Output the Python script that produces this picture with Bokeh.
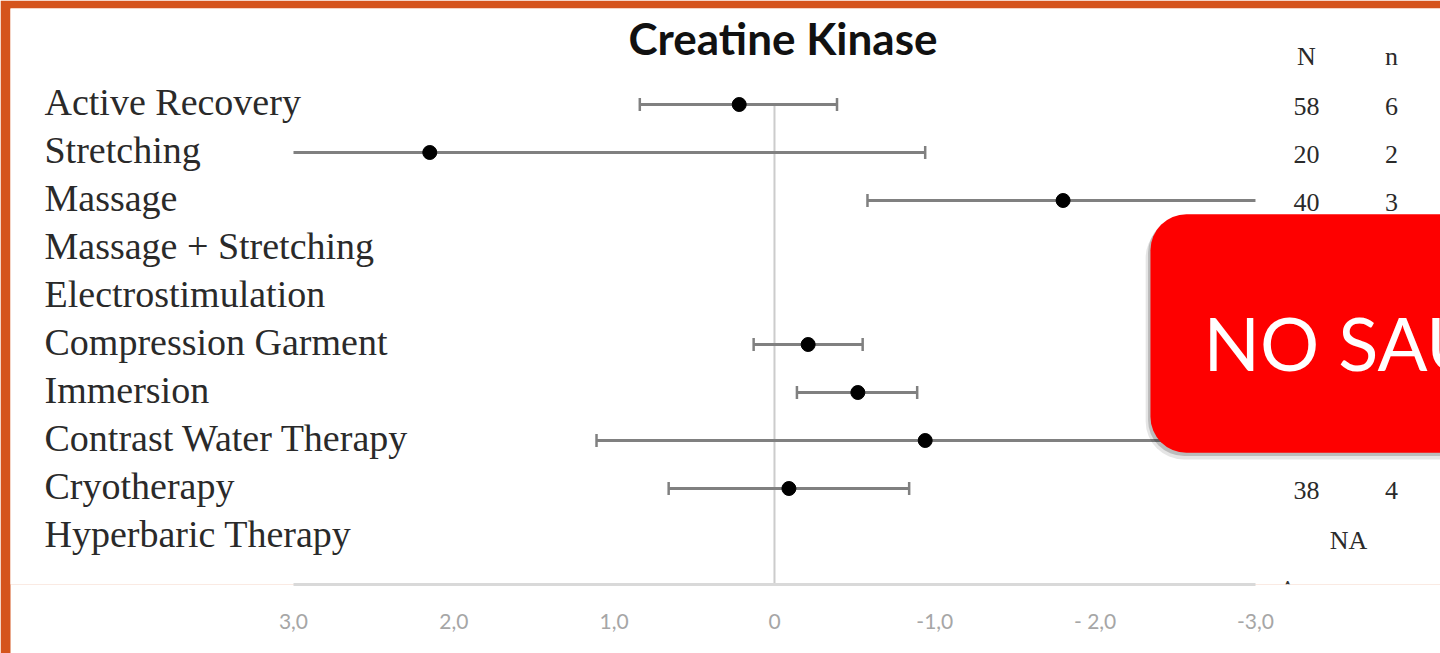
import math
from bokeh.plotting import figure
from bokeh.models import Range1d, LinearAxis, FixedTicker, ColumnDataSource, BoxAnnotation, Label
from bokeh.core.properties import value
from bokeh.embed import file_html
from bokeh.resources import INLINE

nan = float("nan")

# ---------------- data ----------------
categories = ["Active Recovery", "Stretching", "Massage", "Massage + Stretching",
              "Electrostimulation", "Compression Garment", "Immersion",
              "Contrast Water Therapy", "Cryotherapy", "Hyperbaric Therapy"]
effect = [0.22, 2.15, -1.80, nan, nan, -0.21, -0.52, -0.94, -0.09, nan]
ci_left = [0.84, 3.0, -0.58, nan, nan, 0.13, -0.14, 1.11, 0.66, nan]
ci_right = [-0.39, -0.94, -3.0, nan, nan, -0.55, -0.89, -3.0, -0.84, nan]
N_total = ["58", "20", "40", "", "", "", "", "", "38", ""]
n_studies = ["6", "2", "3", "", "", "", "", "", "4", ""]
na_row = "Hyperbaric Therapy"
tick_values = [3, 2, 1, 0, -1, -2, -3]
tick_labels = ["3,0", "2,0", "1,0", "0", "-1,0", "- 2,0", "-3,0"]
title_text = "Creatine Kinase"
banner_text = "NO SAU"

ORANGE = "#d5541d"

# ---------------- figure ----------------
W, H = 1440, 653
p = figure(width=W, height=H, x_range=Range1d(4.765, -4.154), y_range=Range1d(-10, 2.0),
           x_axis_type=None, y_axis_type=None, output_backend="svg", toolbar_location=None,
           min_border_left=10, min_border_right=0, min_border_top=8, min_border_bottom=68,
           outline_line_color=None, background_fill_color="white", border_fill_color=ORANGE)

rows = [-i for i in range(len(categories))]

# zero reference line
p.segment(x0=[0], y0=[rows[0]], x1=[0], y1=[-10], line_color="#cccccc", line_width=2)

# confidence intervals
p.segment(x0=ci_left, y0=rows, x1=ci_right, y1=rows, line_color="#808080", line_width=3)
cap_x, cap_y = [], []
for lo, hi, y in zip(ci_left, ci_right, rows):
    for v in (lo, hi):
        if not math.isnan(v) and abs(v) < 2.99:
            cap_x.append(v)
            cap_y.append(y)
p.scatter(cap_x, cap_y, marker="dash", angle=math.pi / 2, size=13,
          line_color="#808080", line_width=2.5)

# point estimates
p.scatter(effect, rows, size=14, fill_color="black", line_color="black")

# category labels
lab_src = ColumnDataSource(dict(x=[4.553] * len(categories),
                                y=[r + 0.042 for r in rows], t=categories))
p.text(x="x", y="y", text="t", source=lab_src, text_font=value("Liberation Serif"),
       text_font_size="38px", text_color="#2a2a2a", text_baseline="alphabetic",
       text_align="left")

# N / n columns
num_src = ColumnDataSource(dict(xN=[-3.318] * len(categories), xn=[-3.848] * len(categories),
                                y=[r - 0.042 for r in rows], N=N_total, n=n_studies))
for col, xcol in (("N", "xN"), ("n", "xn")):
    p.text(x=xcol, y="y", text=col, source=num_src, text_font=value("Liberation Serif"),
           text_font_size="26px", text_color="#2a2a2a", text_baseline="alphabetic",
           text_align="center")
p.text(x=[-3.318, -3.848], y=[1.0, 1.0], text=["N", "n"], text_font=value("Liberation Serif"),
       text_font_size="26px", text_color="#2a2a2a", text_baseline="alphabetic", text_align="center")
na_y = rows[categories.index(na_row)] - 0.09
p.text(x=[-3.58], y=[na_y], text=["NA"], text_font=value("Liberation Serif"),
       text_font_size="26px", text_color="#2a2a2a", text_baseline="alphabetic", text_align="center")
p.text(x=[-3.2], y=[-10.1], text=["^"], text_font=value("Liberation Serif"), text_font_style="bold",
       text_font_size="28px", text_color="#333333", text_baseline="alphabetic", text_align="center")

# title
p.text(x=[-0.053], y=[1.376], text=[title_text], text_font=value("Lato"), text_font_style="bold",
       text_font_size="44px", text_color="#111111", text_baseline="alphabetic", text_align="center")

# x axis (a blank axis label pads the white axis panel down to the page bottom)
xaxis = LinearAxis(ticker=FixedTicker(ticks=tick_values),
                   major_label_overrides={v: l for v, l in zip(tick_values, tick_labels)},
                   bounds=(-3, 3), axis_line_color="#d9d9d9", axis_line_width=3,
                   major_tick_line_color=None, minor_tick_line_color=None,
                   major_label_text_color="#a6a6a6", major_label_text_font="Lato",
                   major_label_text_font_size="21px", major_label_standoff=17,
                   axis_label=" ", axis_label_text_font_size="13px", axis_label_standoff=0,
                   background_fill_color="white")
p.add_layout(xaxis, "below")

# red banner with shadow
bl, br, bt, bb = -2.345, -4.6, -2.285, -7.255
p.add_layout(BoxAnnotation(left=bl + 0.03, right=br, top=bt - 0.12, bottom=bb - 0.14,
                           fill_color="black", fill_alpha=0.10, line_color=None, border_radius=38))
p.add_layout(BoxAnnotation(left=bl + 0.015, right=br, top=bt - 0.06, bottom=bb - 0.07,
                           fill_color="black", fill_alpha=0.18, line_color=None, border_radius=36))
p.add_layout(BoxAnnotation(left=bl, right=br, top=bt, bottom=bb, fill_color="#fe0000",
                           fill_alpha=1.0, line_color=None, border_radius=36))
p.add_layout(Label(x=-2.676, y=-4.95, text=banner_text, text_font="Lato", text_font_size="74px",
                   text_color="white", text_align="left", text_baseline="alphabetic"))

open("out.html", "w").write(file_html(p, INLINE))
